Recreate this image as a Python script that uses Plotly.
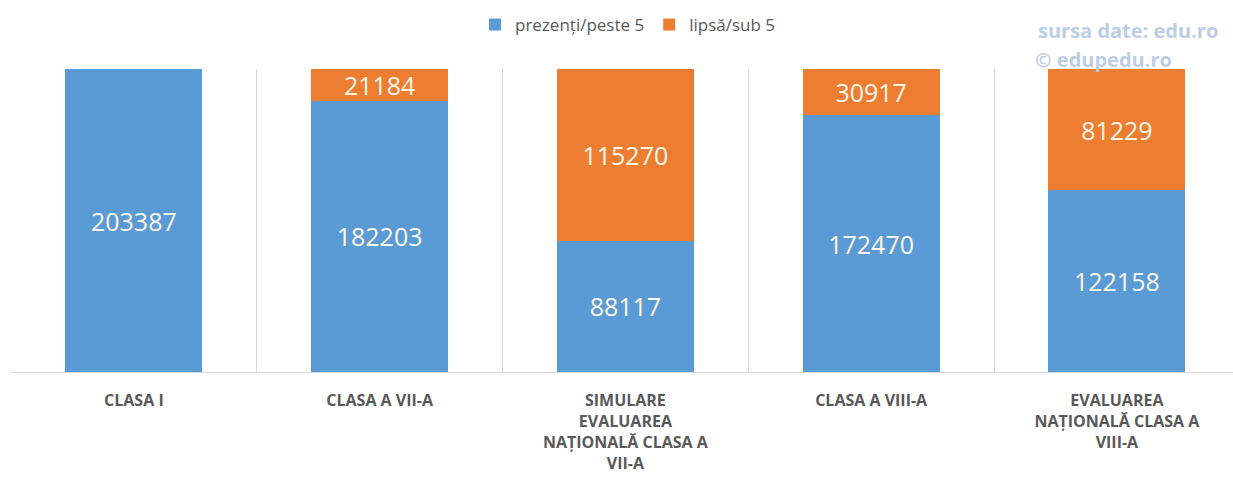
import plotly.graph_objects as go

categories = [
    "CLASA I",
    "CLASA A VII-A",
    "SIMULARE<br>EVALUAREA<br>NAȚIONALĂ CLASA A<br>VII-A",
    "CLASA A VIII-A",
    "EVALUAREA<br>NAȚIONALĂ CLASA A<br>VIII-A",
]
prezenti = [203387, 182203, 88117, 172470, 122158]
lipsa = [None, 21184, 115270, 30917, 81229]

series_names = ["prezenți/peste 5", "lipsă/sub 5"]
colors = ["#5b9bd5", "#ed7d31"]

label_font = dict(family="Open Sans", size=25, color="#fff7ea")

fig = go.Figure()
for name, vals, col in zip(series_names, [prezenti, lipsa], colors):
    fig.add_trace(go.Bar(
        x=categories, y=vals, name=name, marker=dict(color=col, line=dict(width=0)),
        text=[("" if v is None else str(v)) for v in vals],
        textposition="inside", insidetextanchor="middle",
        textfont=label_font, insidetextfont=label_font,
        textangle=0, constraintext="none", cliponaxis=False,
    ))

fig.update_layout(
    barmode="stack",
    bargap=0.443,
    width=1233, height=477,
    margin=dict(l=11, r=0, t=69, b=105),
    plot_bgcolor="white", paper_bgcolor="white",
    font=dict(family="Open Sans", color="#595959"),
    legend=dict(
        orientation="h", x=(628 - 11) / 1222, xanchor="center",
        yref="container", y=1 - 25 / 477, yanchor="middle",
        font=dict(family="Open Sans", size=17, color="#595959"),
        itemwidth=30, traceorder="normal",
    ),
    xaxis=dict(
        type="category", tickson="boundaries", showgrid=True, gridcolor="#d9d9d9",
        gridwidth=1, showline=True, linecolor="#d9d9d9", linewidth=1,
        ticks="", ticklabelstandoff=14, range=[-0.5, -0.5 + 1222 / 245.75],
        tickfont=dict(family="Open Sans", size=16, color="#595959", weight="bold"),
    ),
    yaxis=dict(range=[0, 203387], showgrid=False, zeroline=False, showticklabels=False,
               fixedrange=True),
    annotations=[
        dict(text="<b>sursa date: edu.ro</b>", xref="paper", yref="paper",
             x=(1036 - 11) / 1222, y=(372 - 30) / 303, xanchor="left", yanchor="middle",
             showarrow=False, font=dict(family="Open Sans", size=20, color="#bccde6")),
        dict(text="<b>© edupedu.ro</b>", xref="paper", yref="paper",
             x=(1033 - 11) / 1222, y=(372 - 60) / 303, xanchor="left", yanchor="middle",
             showarrow=False, font=dict(family="Open Sans", size=20, color="#bccde6")),
    ],
)

fig.write_html("out.html", config={"displayModeBar": False},
               post_script="document.body.style.margin='0px';")
